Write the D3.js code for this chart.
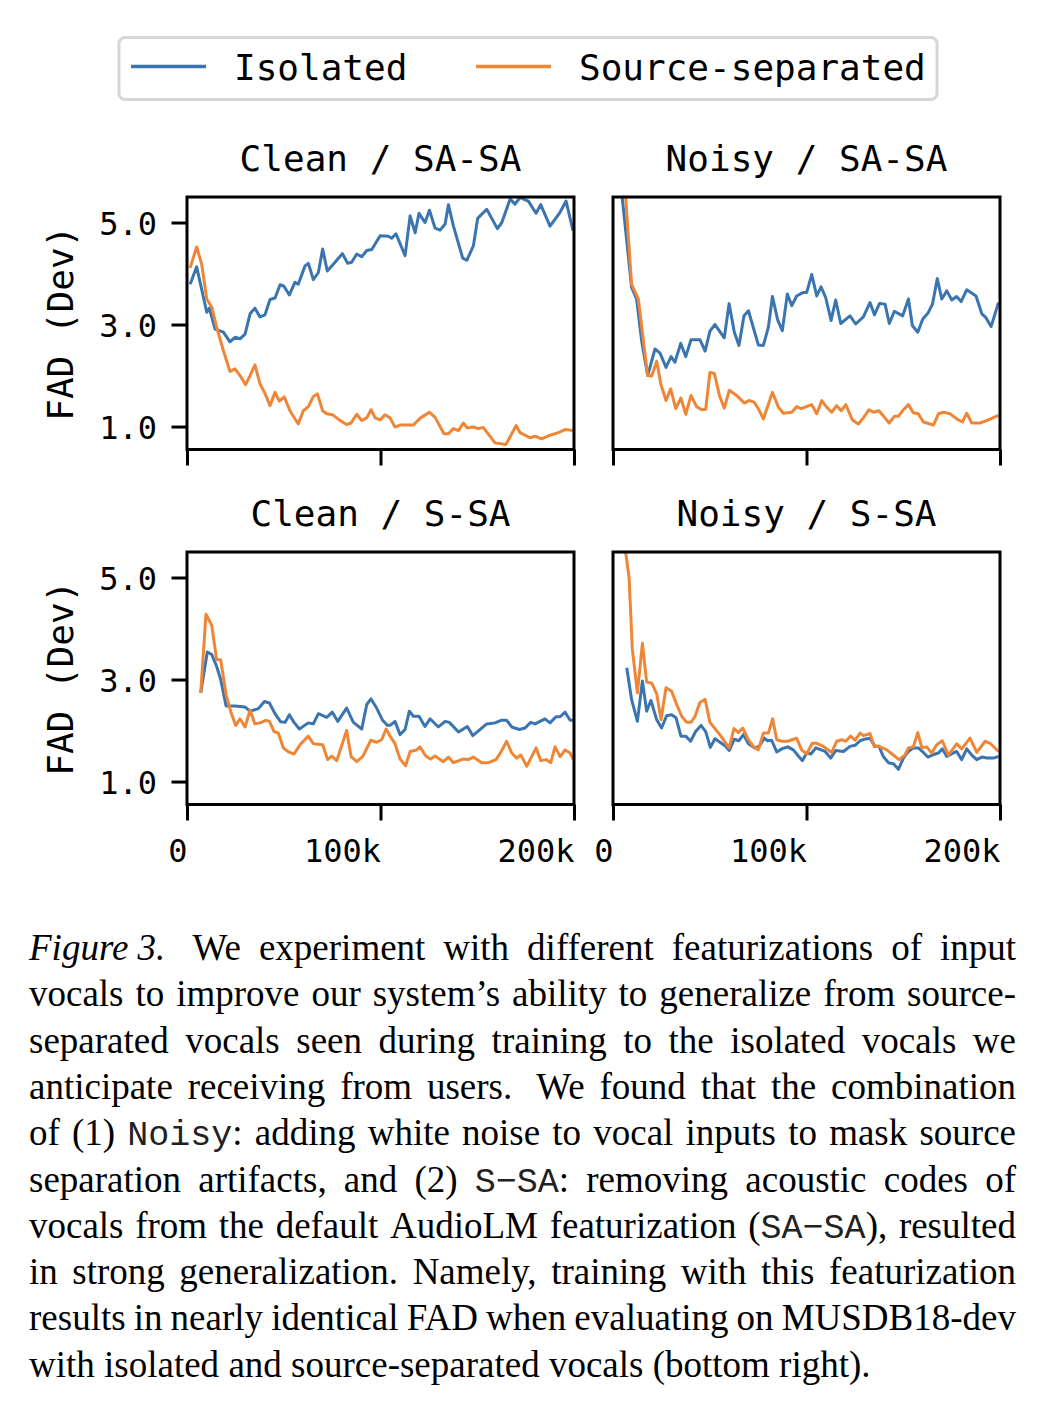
<!DOCTYPE html>
<html><head><meta charset="utf-8">
<script src="https://cdn.jsdelivr.net/npm/d3@7/dist/d3.min.js"></script>
<style>body{margin:0;background:#fff}svg{display:block}</style>
</head><body>
<script>
// ---------------- DATA ----------------
const seriesNames = ["Isolated", "Source-separated"];
const panelTitles = ["Clean / SA-SA", "Noisy / SA-SA", "Clean / S-SA", "Noisy / S-SA"];
const xTickValues = [0, 100000, 200000];
const xTickLabels = ["0", "100k", "200k"];
const yTickValues = [1, 3, 5];
const yTickLabels = ["1.0", "3.0", "5.0"];
const yAxisLabel = "FAD (Dev)";

// [training step in thousands, FAD]
const cleanSASA_isolated = [[1.6,3.79],[5.0,4.13],[10.2,3.24],[11.5,3.32],[14.5,2.91],[18.8,2.85],[22.2,2.66],[24.8,2.75],[27.4,2.72],[30.0,2.81],[32.6,3.21],[35.1,3.32],[37.7,3.15],[40.3,3.19],[42.9,3.49],[45.5,3.52],[48.1,3.78],[50.1,3.75],[52.9,3.58],[55.8,3.83],[57.5,3.79],[61.0,4.15],[62.7,4.20],[65.3,3.88],[67.9,4.02],[70.1,4.48],[72.5,4.05],[76.5,4.22],[80.3,4.39],[83.0,4.20],[85.1,4.22],[87.7,4.38],[90.3,4.33],[92.9,4.45],[95.5,4.47],[99.8,4.74],[104.1,4.73],[105.8,4.69],[108.0,4.78],[112.7,4.35],[115.3,5.13],[117.9,4.80],[119.9,5.18],[123.0,5.00],[125.3,5.24],[128.2,4.89],[130.8,4.85],[133.4,4.97],[135.1,5.35],[137.7,4.93],[142.5,4.30],[144.6,4.26],[148.0,4.54],[150.2,5.08],[154.9,5.26],[160.4,4.88],[162.7,5.00],[167.0,5.46],[169.5,5.36],[172.1,5.49],[176.4,5.42],[180.4,5.18],[182.8,5.35],[187.6,4.93],[192.8,5.20],[195.9,5.42],[199.5,4.84]];
const cleanSASA_separated = [[1.6,4.11],[5.0,4.52],[7.6,4.18],[10.2,3.50],[12.8,3.34],[15.3,2.95],[18.8,2.49],[22.2,2.08],[24.8,2.13],[27.4,2.00],[30.3,1.82],[32.6,2.00],[35.1,2.21],[37.7,1.84],[40.3,1.65],[42.9,1.41],[45.5,1.67],[47.7,1.50],[50.3,1.58],[53.2,1.31],[57.5,1.05],[60.1,1.31],[62.7,1.39],[65.3,1.59],[67.4,1.64],[70.1,1.31],[72.2,1.25],[75.3,1.23],[78.7,1.13],[82.5,1.04],[84.8,1.07],[87.7,1.24],[90.3,1.12],[92.9,1.17],[95.1,1.33],[97.2,1.17],[99.8,1.13],[102.3,1.23],[104.9,1.17],[107.5,0.99],[110.1,1.03],[117.0,1.03],[120.4,1.16],[125.3,1.28],[128.2,1.18],[132.8,0.86],[135.1,0.86],[137.7,0.96],[140.3,0.92],[142.8,1.07],[144.9,0.97],[147.7,0.99],[150.6,0.96],[153.2,0.98],[159.2,0.68],[164.9,0.65],[170.1,1.02],[172.1,0.88],[177.3,0.78],[179.9,0.81],[183.3,0.76],[187.6,0.83],[191.9,0.88],[195.4,0.94],[199.7,0.92]];
const noisySASA_isolated = [[2.0,6.5],[9.6,3.73],[12.2,3.50],[14.8,2.68],[17.9,2.00],[21.7,2.52],[24.3,2.44],[27.4,2.16],[30.0,2.37],[32.0,2.26],[35.0,2.63],[37.6,2.37],[40.3,2.70],[45.0,2.70],[47.6,2.48],[50.1,2.87],[52.7,3.00],[57.5,2.74],[60.0,3.41],[62.7,2.85],[65.1,2.59],[67.7,3.17],[70.0,3.27],[75.1,2.60],[77.7,2.59],[80.3,2.95],[82.4,3.55],[85.1,3.09],[87.5,2.88],[90.1,3.60],[92.4,3.37],[94.9,3.56],[98.4,3.63],[100.1,3.63],[102.7,3.98],[105.3,3.56],[107.5,3.74],[109.9,3.53],[112.7,3.08],[115.1,3.48],[117.7,3.02],[122.5,3.17],[125.4,3.01],[129.4,3.15],[132.8,3.43],[135.1,3.19],[137.7,3.41],[140.6,3.40],[142.8,3.02],[145.4,3.26],[149.7,3.17],[152.7,3.50],[154.7,2.98],[157.5,2.85],[160.1,3.11],[162.7,3.22],[165.1,3.40],[167.6,3.90],[169.9,3.50],[172.5,3.66],[175.1,3.48],[177.6,3.55],[179.9,3.45],[182.8,3.68],[187.6,3.56],[190.6,3.21],[192.6,3.14],[195.4,2.96],[199.2,3.43]];
const noisySASA_separated = [[3.5,7.2],[9.6,3.79],[13.1,3.50],[15.7,2.68],[17.9,2.00],[20.0,1.99],[22.6,2.28],[24.8,1.82],[27.4,1.51],[29.8,1.74],[32.4,1.35],[35.1,1.56],[37.6,1.24],[40.3,1.61],[43.2,1.39],[45.8,1.33],[47.9,1.34],[50.1,2.06],[52.4,2.04],[55.0,1.61],[57.5,1.36],[60.1,1.71],[63.9,1.61],[67.9,1.46],[70.3,1.51],[72.9,1.48],[75.1,1.35],[77.7,1.15],[82.4,1.67],[85.5,1.38],[88.0,1.26],[92.4,1.28],[94.9,1.39],[97.2,1.35],[102.7,1.43],[105.3,1.25],[107.9,1.51],[110.4,1.38],[113.0,1.28],[115.6,1.41],[117.9,1.31],[120.3,1.43],[123.7,1.13],[126.8,1.05],[129.4,1.17],[132.3,1.33],[134.6,1.28],[137.5,1.31],[140.3,1.18],[142.7,1.07],[145.4,1.20],[147.5,1.20],[150.1,1.33],[152.7,1.43],[155.2,1.27],[157.8,1.25],[160.4,1.09],[165.6,1.03],[168.2,1.25],[170.8,1.28],[174.2,1.25],[177.6,1.15],[180.6,1.09],[182.8,1.26],[185.4,1.07],[189.7,1.07],[194.0,1.13],[199.2,1.22]];
const cleanSSA_isolated = [[7.1,2.74],[10.5,3.54],[12.8,3.49],[15.3,3.26],[17.4,3.00],[20.2,2.48],[24.8,2.48],[30.0,2.46],[32.6,2.38],[36.9,2.43],[40.0,2.57],[42.6,2.54],[45.5,2.33],[48.4,2.17],[50.7,2.16],[52.9,2.31],[55.3,2.16],[58.1,2.03],[62.7,2.15],[65.3,2.13],[67.9,2.33],[72.2,2.26],[75.1,2.36],[77.9,2.18],[82.5,2.44],[86.0,2.16],[90.3,2.03],[92.9,2.51],[95.1,2.62],[98.0,2.44],[101.1,2.20],[103.6,2.10],[105.3,2.11],[107.5,2.18],[110.1,1.92],[112.7,2.02],[114.9,2.38],[117.0,2.28],[119.9,2.28],[123.0,2.08],[125.6,2.23],[129.9,2.07],[133.4,2.18],[135.6,2.16],[140.3,1.97],[144.9,2.08],[147.7,1.90],[154.9,2.13],[159.2,2.15],[162.3,2.20],[165.2,2.20],[167.8,2.07],[171.8,2.02],[174.7,2.05],[177.6,2.16],[179.9,2.13],[185.0,2.23],[187.6,2.15],[190.7,2.27],[192.8,2.27],[195.4,2.36],[198.0,2.20],[199.7,2.20]];
const cleanSSA_separated = [[7.1,2.74],[9.8,4.28],[12.8,4.06],[15.3,3.39],[17.4,3.39],[20.2,2.70],[22.7,2.36],[25.2,2.10],[27.4,2.23],[30.0,2.07],[32.6,2.40],[35.1,2.13],[37.7,2.15],[40.8,2.20],[42.6,2.18],[45.0,1.98],[47.2,1.95],[49.8,1.66],[52.4,1.58],[55.3,1.54],[58.4,1.72],[62.7,1.89],[65.3,1.74],[70.1,1.72],[72.7,1.43],[74.8,1.50],[77.4,1.41],[82.5,2.00],[84.8,1.49],[87.7,1.39],[90.8,1.49],[95.0,1.81],[98.0,1.77],[100.6,1.82],[102.9,2.03],[105.0,1.89],[107.5,1.74],[110.1,1.44],[113.0,1.31],[115.3,1.59],[118.7,1.62],[120.4,1.68],[123.4,1.50],[125.9,1.44],[128.2,1.50],[132.5,1.39],[135.1,1.48],[137.7,1.37],[142.5,1.44],[145.4,1.43],[148.0,1.48],[152.3,1.37],[155.8,1.37],[159.7,1.43],[162.1,1.57],[165.2,1.79],[167.8,1.56],[170.4,1.46],[172.5,1.52],[175.6,1.30],[180.4,1.66],[182.8,1.41],[185.6,1.43],[188.0,1.37],[190.2,1.68],[192.8,1.49],[195.4,1.62],[198.0,1.56],[199.7,1.43]];
const noisySSA_isolated = [[7.1,3.23],[9.6,2.61],[12.6,2.18],[15.2,2.97],[17.4,2.38],[19.6,2.59],[22.6,2.21],[25.1,2.05],[27.7,2.29],[30.3,2.31],[32.6,2.25],[35.1,1.89],[37.6,1.89],[40.1,1.79],[42.7,1.98],[45.5,2.10],[47.9,1.98],[50.3,1.67],[52.7,1.84],[55.3,1.77],[57.9,1.70],[60.1,1.61],[62.7,1.83],[65.1,1.80],[67.4,1.92],[70.0,1.74],[73.1,1.66],[75.5,1.69],[78.2,1.85],[79.9,1.80],[82.0,1.81],[84.6,1.58],[87.2,1.64],[90.3,1.68],[93.2,1.62],[95.8,1.50],[97.9,1.41],[100.1,1.56],[102.3,1.54],[104.8,1.66],[109.6,1.59],[112.5,1.46],[115.1,1.61],[119.1,1.59],[122.5,1.69],[125.1,1.71],[127.7,1.80],[129.9,1.83],[132.8,1.85],[135.4,1.69],[137.5,1.69],[139.7,1.49],[142.3,1.37],[144.9,1.35],[147.5,1.24],[150.1,1.46],[152.7,1.59],[155.2,1.66],[157.8,1.66],[160.4,1.57],[162.7,1.48],[165.6,1.53],[168.2,1.56],[170.2,1.64],[172.5,1.49],[175.9,1.56],[177.6,1.59],[180.2,1.43],[182.8,1.64],[185.4,1.52],[188.0,1.43],[190.6,1.48],[193.2,1.46],[196.6,1.46],[199.2,1.49]];
const noisySSA_separated = [[6.0,5.65],[8.3,5.00],[10.0,3.59],[12.6,2.74],[15.2,3.71],[17.4,2.95],[20.0,2.93],[22.6,2.72],[24.8,2.21],[27.4,2.84],[30.3,2.77],[32.9,2.51],[35.5,2.28],[38.1,2.16],[40.3,2.16],[42.4,2.28],[44.9,2.55],[47.6,2.61],[50.1,2.16],[55.8,1.89],[60.0,1.66],[62.5,2.04],[64.8,1.96],[67.0,2.05],[70.0,1.82],[72.5,1.69],[75.1,1.62],[77.7,1.95],[80.3,1.95],[82.5,2.23],[84.6,1.82],[87.2,1.79],[90.3,1.79],[94.9,1.85],[97.5,1.62],[100.1,1.54],[103.0,1.75],[105.3,1.75],[108.7,1.69],[113.0,1.57],[115.6,1.79],[118.2,1.82],[120.3,1.79],[122.8,1.89],[125.1,1.81],[127.7,1.95],[129.4,1.90],[132.8,1.94],[135.1,1.68],[137.5,1.69],[141.5,1.62],[144.9,1.52],[147.8,1.43],[150.9,1.52],[152.7,1.66],[155.2,1.68],[157.5,1.96],[159.6,1.66],[162.1,1.68],[164.7,1.56],[167.3,1.72],[170.2,1.80],[173.3,1.52],[177.6,1.74],[180.2,1.64],[184.5,1.85],[188.0,1.57],[192.3,1.79],[194.9,1.75],[199.2,1.59]];

const captionLines = [
  "*Figure~3.*~ We experiment with different featurizations of input",
  "vocals to improve our system’s ability to generalize from source-",
  "separated vocals seen during training to the isolated vocals we",
  "anticipate receiving from users.~ We found that the combination",
  "of (1) {Noisy}: adding white noise to vocal inputs to mask source",
  "separation artifacts, and (2) {S−SA}: removing acoustic codes of",
  "vocals from the default AudioLM featurization ({SA−SA}), resulted",
  "in strong generalization. Namely, training with this featurization",
  "results in nearly identical FAD when evaluating on MUSDB18-dev",
  "with isolated and source-separated vocals (bottom right)."
];

// ---------------- DRAWING ----------------
const W = 1056, H = 1420;
const MONO = "'DejaVu Sans Mono', monospace";
const colors = ["#3a75b0", "#ef8636"];
const svg = d3.select("body").append("svg").attr("width", W).attr("height", H)
  .style("font-family", MONO);

const panelData = [
  [cleanSASA_isolated, cleanSASA_separated],
  [noisySASA_isolated, noisySASA_separated],
  [cleanSSA_isolated, cleanSSA_separated],
  [noisySSA_isolated, noisySSA_separated]
];
const lefts = [187, 613], tops = [197, 552];
const pw = 387, ph = 252.5;

panelData.forEach((series, i) => {
  const col = i % 2, row = Math.floor(i / 2);
  const x0 = lefts[col], y0 = tops[row];
  const x = d3.scaleLinear().domain([0, 200000]).range([x0, x0 + pw]);
  const y = d3.scaleLinear().domain([0.55, 5.5]).range([y0 + ph, y0]);
  const g = svg.append("g");
  const cid = "clip" + i;
  svg.append("clipPath").attr("id", cid).append("rect")
    .attr("x", x0).attr("y", y0).attr("width", pw).attr("height", ph);
  const line = d3.line().x(d => x(d[0] * 1000)).y(d => y(d[1]));
  series.forEach((s, k) => {
    g.append("path").datum(s).attr("clip-path", `url(#${cid})`)
      .attr("d", line).attr("fill", "none").attr("stroke", colors[k])
      .attr("stroke-width", 3).attr("stroke-linejoin", "round");
  });
  // x axis
  const xa = g.append("g").attr("transform", `translate(0,${y0 + ph})`)
    .call(d3.axisBottom(x).tickValues(xTickValues).tickSize(16).tickSizeOuter(0)
      .tickFormat((d, j) => row === 1 ? xTickLabels[j] : ""));
  xa.select(".domain").remove();
  xa.selectAll(".tick line").attr("stroke", "#000").attr("stroke-width", 3);
  xa.selectAll(".tick text").attr("text-anchor", "end").attr("y", 57).attr("dy", 0)
    .attr("font-size", 32).attr("font-family", MONO).attr("fill", "#000");
  // y axis
  if (col === 0) {
    const ya = g.append("g").attr("transform", `translate(${x0},0)`)
      .call(d3.axisLeft(y).tickValues(yTickValues).tickSize(15.5).tickSizeOuter(0)
        .tickFormat((d, j) => yTickLabels[j]));
    ya.select(".domain").remove();
    ya.selectAll(".tick line").attr("stroke", "#000").attr("stroke-width", 3);
    ya.selectAll(".tick text").attr("x", -30).attr("dy", "0.36em")
      .attr("font-size", 32).attr("font-family", MONO).attr("fill", "#000");
    svg.append("text").attr("transform", `translate(73,${y0 + ph / 2}) rotate(-90)`)
      .attr("text-anchor", "middle").attr("font-size", 36).text(yAxisLabel);
  }
  // frame
  g.append("rect").attr("x", x0).attr("y", y0).attr("width", pw).attr("height", ph)
    .attr("fill", "none").attr("stroke", "#000").attr("stroke-width", 3);
  // title
  svg.append("text").attr("x", x0 + pw / 2).attr("y", y0 - 26)
    .attr("text-anchor", "middle").attr("font-size", 36).text(panelTitles[i]);
});

// legend
const lg = svg.append("g");
lg.append("rect").attr("x", 119).attr("y", 37.5).attr("width", 818).attr("height", 62)
  .attr("rx", 6).attr("fill", "#fff").attr("stroke", "#d6d6d6").attr("stroke-width", 3);
const legendX = [[131, 206, 234], [476, 551, 579]];
seriesNames.forEach((n, k) => {
  lg.append("line").attr("x1", legendX[k][0]).attr("x2", legendX[k][1])
    .attr("y1", 66.5).attr("y2", 66.5).attr("stroke", colors[k]).attr("stroke-width", 3.4);
  lg.append("text").attr("x", legendX[k][2]).attr("y", 79.5).attr("font-size", 36).text(n);
});

// caption (justified)
const SERIF = "'Liberation Serif', 'Times New Roman', serif";
const CAP_FS = 37, CAP_LEFT = 29, CAP_RIGHT = 1016, CAP_TOP = 960, CAP_LH = 46.3;
const cap = svg.append("g").attr("font-family", SERIF).attr("font-size", CAP_FS).attr("fill", "#000");
function addWord(parent, token) {
  const t = parent.append("text").attr("xml:space", "preserve");
  const parts = token.match(/(\*[^*]+\*|\{[^}]+\}|[^*{]+)/g);
  parts.forEach(p => {
    let txt = p, ff = SERIF, fs = "normal", fill = "#000", size = null;
    if (p[0] === "*") { txt = p.slice(1, -1); fs = "italic"; }
    else if (p[0] === "{") { txt = p.slice(1, -1); ff = "'Liberation Mono', monospace"; fill = "#222"; size = 35; }
    const ts = t.append("tspan").attr("font-family", ff).attr("font-style", fs).attr("fill", fill)
      .text(txt.replace(/~/g, " "));
    if (size) ts.attr("font-size", size);
  });
  return t;
}
captionLines.forEach((ln, li) => {
  const yb = CAP_TOP + li * CAP_LH;
  const words = ln.split(" ");
  const nodes = words.map(w => addWord(cap, w).attr("y", yb));
  const widths = nodes.map(n => n.node().getComputedTextLength());
  const total = d3.sum(widths);
  const last = li === captionLines.length - 1;
  const gap = last ? CAP_FS * 0.25 : (CAP_RIGHT - CAP_LEFT - total) / (words.length - 1);
  let xc = CAP_LEFT;
  nodes.forEach((n, k) => { n.attr("x", xc); xc += widths[k] + gap; });
});
</script>
</body></html>
